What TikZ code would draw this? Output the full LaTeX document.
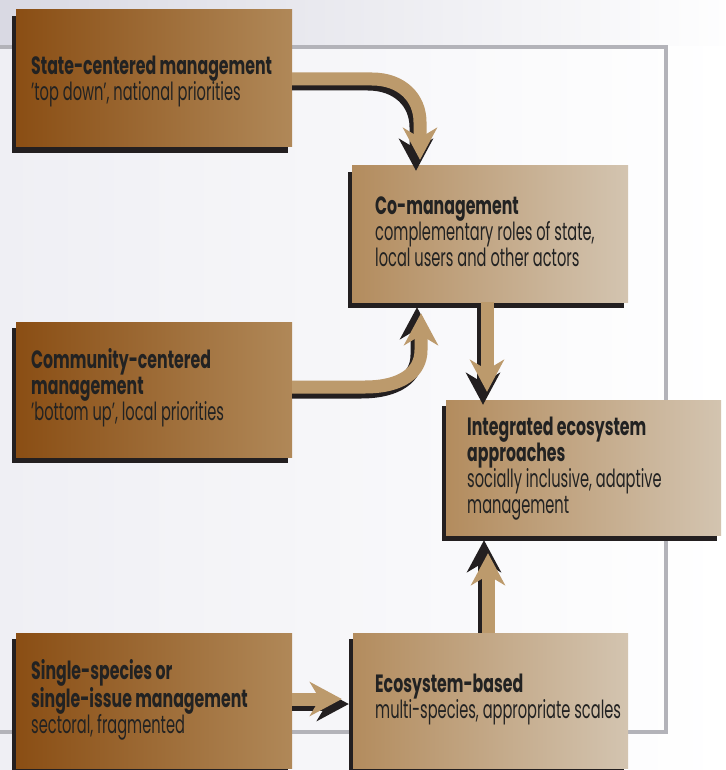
\documentclass[tikz,border=0pt]{standalone}
\usepackage{fontspec}
\setmainfont{Poppins}[FakeStretch=0.585, BoldFeatures={FakeStretch=0.63}]
\usetikzlibrary{arrows.meta,shadows}
\definecolor{dl}{HTML}{8A4E14}
\definecolor{dr}{HTML}{B08858}
\definecolor{ll}{HTML}{B38C5E}
\definecolor{lr}{HTML}{D3C4B0}
\definecolor{arrc}{HTML}{BC9A6C}
\definecolor{shadowc}{HTML}{231F20}
\definecolor{textc}{HTML}{222222}
\definecolor{framec}{HTML}{B3B3B9}
\definecolor{bgtop}{HTML}{D9D9E3}
\definecolor{bgmid}{HTML}{EFEFF4}
\begin{document}
\begin{tikzpicture}[x=1pt,y=-1pt,
  box/.style={rectangle, inner sep=0pt, draw=none,
    general shadow={fill=shadowc, shadow xshift=-4pt, shadow yshift=-6pt}},
  darkbox/.style={box, left color=dl, right color=dr},
  lightbox/.style={box, left color=ll, right color=lr},
  txt/.style={anchor=north west, align=left, inner sep=0pt, text=textc,
    font=\fontsize{25}{26}\selectfont},
  flow/.style={line width=13pt, draw=arrc,
    -{Stealth[length=32pt, width=34pt, inset=10pt]}},
  flowshadow/.style={flow, draw=shadowc}
]
\useasboundingbox (0,0) rectangle (725,770);
\clip (0,0) rectangle (725,770);
% background
\fill[white] (0,0) rectangle (725,770);
\shade[left color=bgtop, right color=white!97!bgtop] (0,0) rectangle (725,47);
\shade[left color=bgmid, right color=white] (0,47) rectangle (725,770);
% frame
\draw[framec, line width=4pt] (-10,47) -- (666,47) -- (666,732) -- (-10,732);
% boxes
\node[darkbox, minimum width=276pt, minimum height=137pt] (state) at (154,78.5) {};
\node[darkbox, minimum width=276pt, minimum height=135pt] (comm) at (154,389.5) {};
\node[darkbox, minimum width=276pt, minimum height=135pt] (single) at (154,700.5) {};
\node[lightbox, minimum width=276pt, minimum height=136pt] (comgmt) at (490,234) {};
\node[lightbox, minimum width=275pt, minimum height=135pt] (integ) at (583.5,467.5) {};
\node[lightbox, minimum width=275pt, minimum height=135pt] (eco) at (490.5,700.5) {};
% connector shadows
\begin{scope}[transform canvas={shift={(-4pt,-5pt)}}]
\draw[flowshadow, shorten <=4pt] (state.east |- 0,79) -- (372,79) .. controls (402,79) and (420,98) .. (420,122) -- (comgmt.north -| 420,0);
\draw[flowshadow, shorten <=4pt] (comm.east |- 0,387) -- (365,387) .. controls (402,387) and (421,372) .. (421,350) -- (comgmt.south -| 421,0);
\draw[flowshadow] (comgmt.south -| 487,0) -- (integ.north -| 487,0);
\draw[flowshadow, shorten <=5pt] (eco.north -| 488,0) -- (integ.south -| 488,0);
\draw[flowshadow, shorten <=4pt] (single.east |- 0,699) -- (eco.west |- 0,699);
\end{scope}
% connectors
\draw[flow, shorten >=6pt] (state.east |- 0,79) -- (372,79) .. controls (402,79) and (420,98) .. (420,122) -- (comgmt.north -| 420,0);
\draw[flow, shorten >=11pt] (comm.east |- 0,387) -- (365,387) .. controls (402,387) and (421,372) .. (421,350) -- (comgmt.south -| 421,0);
\draw[flow, shorten >=8pt] (comgmt.south -| 487,0) -- (integ.north -| 487,0);
\draw[flow, shorten >=18pt] (eco.north -| 488,0) -- (integ.south -| 488,0);
\draw[flow, shorten >=11pt] (single.east |- 0,699) -- (eco.west |- 0,699);
% texts
\node[txt] (statet) at (31,55.5) {\textbf{State-centered management}\\'top down', national priorities};
\node[txt] (commt) at (31,348.5) {\textbf{Community-centered}\\\textbf{management}\\'bottom up', local priorities};
\node[txt] (singlet) at (31,659.5) {\textbf{Single-species or}\\\textbf{single-issue management}\\sectoral, fragmented};
\node[txt] (comgmtt) at (375,196.5) {\textbf{Co-management}\\complementary roles of state,\\local users and other actors};
\node[txt] (integt) at (467,416.5) {\textbf{Integrated ecosystem}\\\textbf{approaches}\\socially inclusive, adaptive\\management};
\node[txt] (ecot) at (375,673.5) {\textbf{Ecosystem-based}\\multi-species, appropriate scales};
\end{tikzpicture}
\end{document}
